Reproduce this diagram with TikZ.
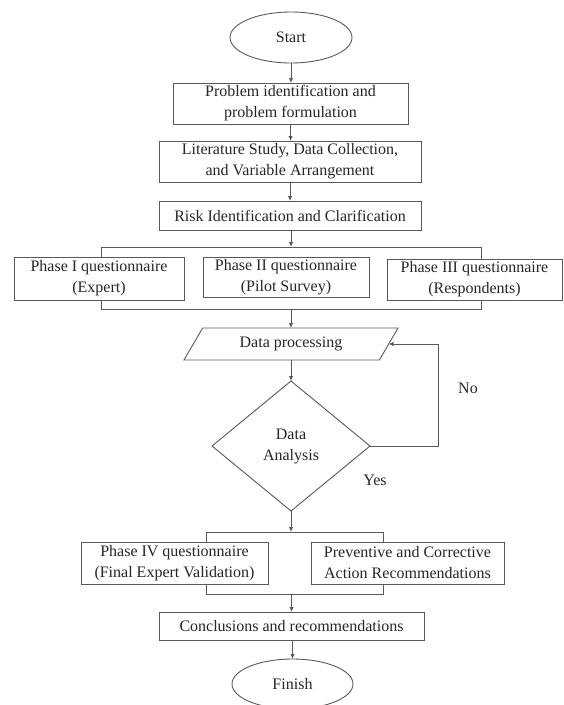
\documentclass[tikz,border=0pt]{standalone}
\usepackage{fontspec}
\setmainfont{Liberation Serif}
\usetikzlibrary{shapes.geometric,arrows.meta}
\begin{document}
\begin{tikzpicture}[x=1pt,y=-1pt,
  every node/.style={inner sep=0pt,outer sep=0pt,font=\fontsize{16}{21}\selectfont,text=black!85},
  ln/.style={draw=black!65,line width=0.9pt},
  boxn/.style={ln,rectangle,fill=white,align=center},
  term/.style={ln,ellipse,fill=white},
  frame/.style={ln,rectangle},
  arr/.style={ln,-{Latex[length=5pt,width=4.5pt]}}]
\useasboundingbox (0,0) rectangle (563,705);
\node[term,minimum width=122pt,minimum height=51pt] (start) at (291,37.5) {Start};
\node[boxn,minimum width=235pt,minimum height=41pt] (b1) at (290.5,103.5) {Problem identification and\\problem formulation};
\node[boxn,minimum width=262pt,minimum height=41pt] (b2) at (290,161.5) {Literature Study, Data Collection,\\and Variable Arrangement};
\node[boxn,minimum width=262pt,minimum height=29pt] (b3) at (290,215.5) {Risk Identification and Clarification};
\node[frame,minimum width=380pt,minimum height=62pt] (br1) at (291,278) {};
\node[boxn,minimum width=170pt,minimum height=43pt] (ph1) at (99,278.5) {Phase I questionnaire\\(Expert)};
\node[boxn,minimum width=166pt,minimum height=40pt] (ph2) at (286,277.5) {Phase II questionnaire\\(Pilot Survey)};
\node[boxn,minimum width=175pt,minimum height=41pt] (ph3) at (474.5,279.5) {Phase III questionnaire\\(Respondents)};
\node[ln,trapezium,trapezium left angle=37,trapezium right angle=143,trapezium stretches body,fill=white,minimum width=214pt,minimum height=32pt] (dp) at (291,344) {Data processing};
\node[ln,diamond,aspect=1.215,fill=white,align=center,minimum width=158pt,minimum height=130pt] (da) at (291,446) {Data\\Analysis};
\node[frame,minimum width=177pt,minimum height=62pt] (br2) at (294.5,563) {};
\node[boxn,minimum width=187pt,minimum height=42pt] (ph4) at (174.5,563) {Phase IV questionnaire\\(Final Expert Validation)};
\node[boxn,minimum width=193pt,minimum height=42pt] (pv) at (407.5,563) {Preventive and Corrective\\Action Recommendations};
\node[boxn,minimum width=265pt,minimum height=28pt] (cc) at (291.5,626) {Conclusions and recommendations};
\node[term,minimum width=121pt,minimum height=50pt] (fin) at (292.5,684) {Finish};
\node (no) at (468,388) {No};
\node (yes) at (375,480) {Yes};
\draw[arr] (start.south) -- (start.south |- b1.north);
\draw[arr] (b1.south) -- (b1.south |- b2.north);
\draw[arr] (b2.south) -- (b2.south |- b3.north);
\draw[arr] (b3.south -| br1.north) -- (br1.north);
\draw[arr] (br1.south) -- (br1.south |- dp.north);
\draw[arr] (dp.south) -- (dp.south |- da.north);
\draw[arr] (da.east) -- ++(68,0) |- (dp.east);
\draw[arr] (da.south) -- (da.south |- br2.north);
\draw[arr] (cc.north |- br2.south) -- (cc.north);
\draw[arr] (cc.south -| fin.north) -- (fin.north);
\end{tikzpicture}
\end{document}
